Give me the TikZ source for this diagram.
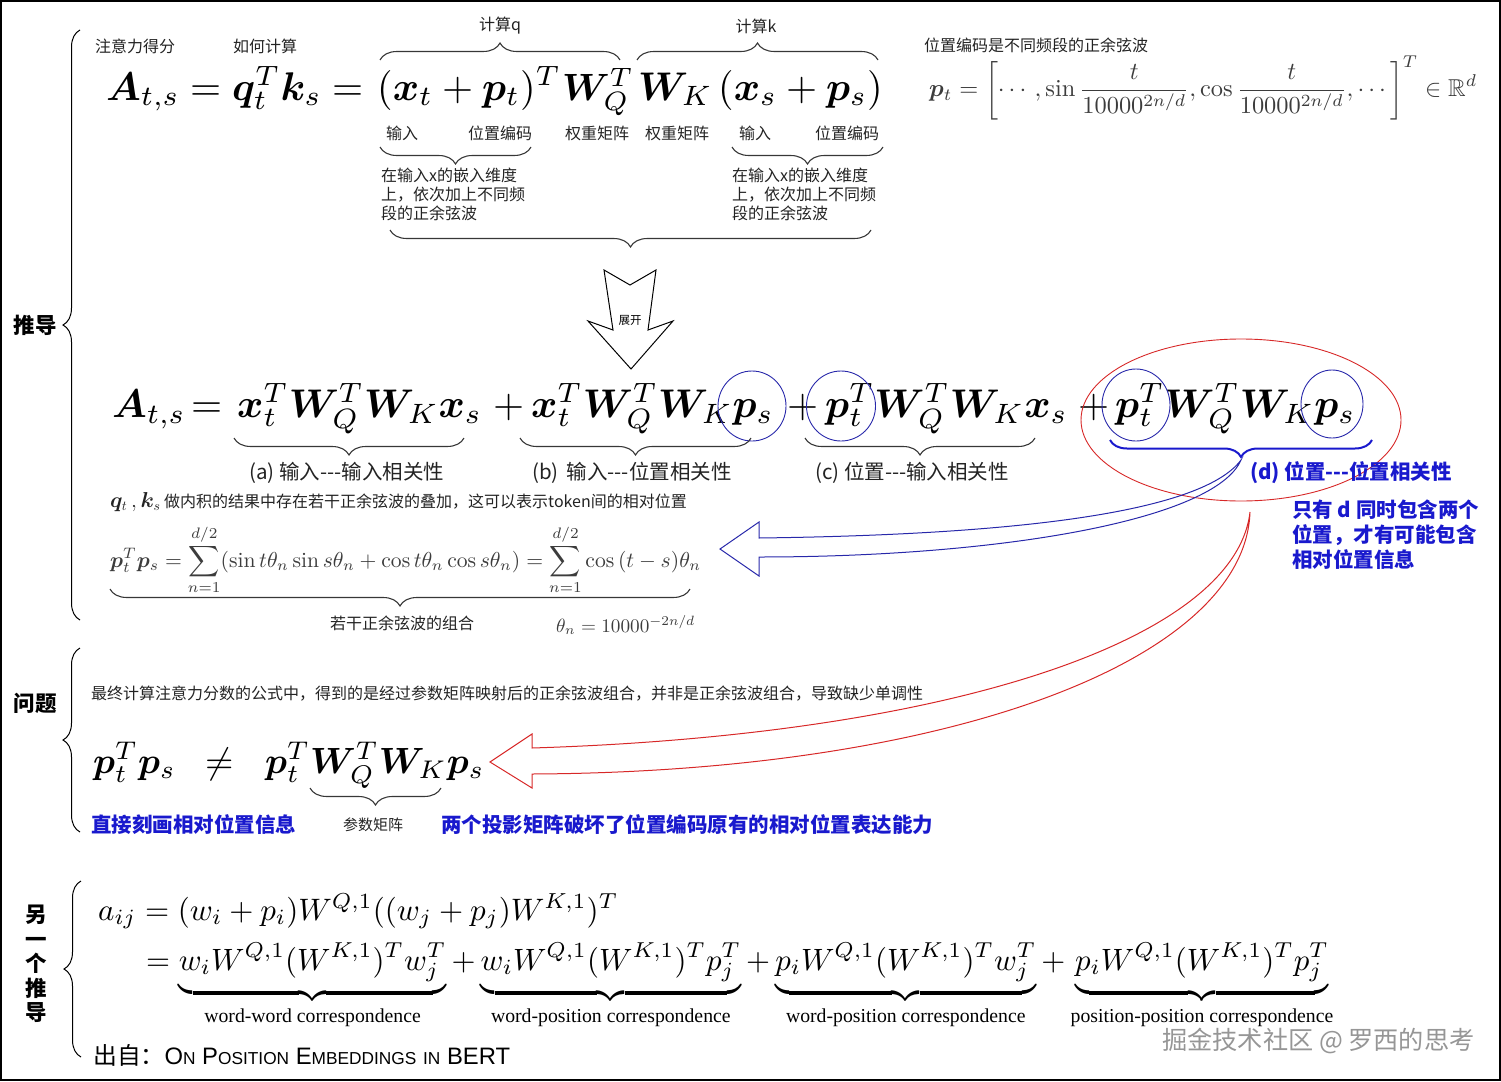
\documentclass[tikz,border=0pt]{standalone}
\usepackage{amsmath,amssymb,bm}
\usepackage{fontspec}
\usetikzlibrary{decorations.pathreplacing,shapes.geometric}
\newfontfamily\cjk{Noto Sans CJK SC}
\newfontfamily\tms{Liberation Serif}
\newfontfamily\arl{Liberation Sans}
\definecolor{myblue}{RGB}{25,25,205}
\definecolor{cblue}{RGB}{40,40,170}
\definecolor{myred}{RGB}{215,40,40}
\definecolor{txtc}{RGB}{35,35,35}
\definecolor{brcol}{RGB}{55,55,55}
\definecolor{mgray}{RGB}{60,60,60}
\definecolor{wmark}{RGB}{150,150,150}
\newcommand\sbx[2]{\scalebox{#1}{$#2$}}
\newcommand\fsc[1]{{\fontsize{17.3}{17.3}\selectfont #1}}
\def\Sa{4.0}
\def\Sb{4.0}
\def\Sc{3.65}
\begin{document}
\begin{tikzpicture}[x=1pt,y=-1pt,
  txt/.style={inner sep=0pt, text=txtc, font=\cjk\fontsize{16}{19}\selectfont},
  lbl/.style={inner sep=0pt, text=txtc, font=\cjk\fontsize{20.5}{24}\selectfont},
  blbl/.style={inner sep=0pt, text=myblue, font=\cjk\bfseries\fontsize{20.5}{25}\selectfont},
  sect/.style={inner sep=0pt, font=\cjk\bfseries\fontsize{21.5}{24.5}\selectfont},
  mth/.style={inner sep=0pt, anchor=base west},
  brc/.style={decorate, decoration={brace, amplitude=17pt}, draw=brcol, line width=1.1pt},
  lbrc/.style={decorate, decoration={brace, amplitude=17pt}, draw=black, line width=1pt},
  circ/.style={draw=cblue, line width=0.9pt, ellipse, inner sep=0pt},
]
\useasboundingbox (0,0) rectangle (1501,1081);
\draw[line width=2pt] (1,1) rectangle (1500,1080);

% ---- left braces and section labels
\draw[lbrc] (80,620) -- (80,30);
\draw[lbrc] (80,832) -- (80,648);
\draw[lbrc] (81,1057) -- (81,881);
\node[sect] (sd) at (35,325) {推导};
\node[sect] (sq) at (35,703) {问题};
\node[sect, align=center] (so) at (36,964) {另\\一\\个\\推\\导};

% ---- top row
\node[txt] (t1) at (135,46) {注意力得分};
\node[txt] (t2) at (265,46) {如何计算};
\node[txt] (t3) at (500,26) {计算q};
\node[txt] (t4) at (756,26) {计算k};
\draw[brc] (380,60) -- (620,60);
\draw[brc] (637,60) -- (878,60);

\node[mth] (r1a) at (106,100) {\sbx{\Sa}{\bm{A}_{t,s}}};
\node[mth] (r1b) at (190,100) {\sbx{\Sa}{=}};
\node[mth] (r1c) at (232,100) {\sbx{\Sa}{\bm{q}_t^T\bm{k}_s}};
\node[mth] (r1d) at (332,100) {\sbx{\Sa}{=}};
\node[mth] (r1e) at (377,100) {\sbx{\Sa}{(\bm{x}_t+\bm{p}_t)^T}};
\node[mth] (r1f) at (562,100) {\sbx{3.8}{\bm{W}_Q^T}};
\node[mth] (r1g) at (638,100) {\sbx{\Sa}{\bm{W}_K}};
\node[mth] (r1h) at (718,100) {\sbx{\Sa}{(\bm{x}_s+\bm{p}_s)}};

\node[txt] (l1) at (402,133) {输入};
\node[txt] (l2) at (500,133) {位置编码};
\node[txt] (l3) at (597,133) {权重矩阵};
\node[txt] (l4) at (677,133) {权重矩阵};
\node[txt] (l5) at (755,133) {输入};
\node[txt] (l6) at (847,133) {位置编码};
\draw[brc] (531,147) -- (380,147);
\draw[brc] (883,147) -- (732,147);
\node[txt, anchor=north west, align=left] (b1) at (381,168) {在输入x的嵌入维度\\上，依次加上不同频\\段的正余弦波};
\node[txt, anchor=north west, align=left] (b2) at (732,168) {在输入x的嵌入维度\\上，依次加上不同频\\段的正余弦波};
\draw[brc] (871,230) -- (390,230);

\node[txt, anchor=west] (pe) at (924,45) {位置编码是不同频段的正余弦波};
\node[inner sep=0pt, anchor=west, text=mgray] (pf) at (929,87.5) {\resizebox{548pt}{!}{$\displaystyle \bm{p}_t=\left[\cdots,\sin\frac{t}{10000^{2n/d}},\cos\frac{t}{10000^{2n/d}},\cdots\right]^T\in\mathbb{R}^d$}};

% ---- expand arrow
\draw[line width=1pt, line join=miter] (604,270) -- (630,285) -- (656,270) -- (648,330) -- (673,321) -- (631,369) -- (588,321) -- (613,330) -- cycle;
\node[inner sep=0pt, font=\cjk\fontsize{11.5}{12}\selectfont] (zk) at (630,320) {展开};

% ---- second row
\node[mth] (r2a) at (112,417) {\sbx{\Sb}{\bm{A}_{t,s}}};
\node[mth] (r2b) at (191,417) {\sbx{\Sb}{=}};
\node[mth] (r2c) at (237,417) {\sbx{\Sb}{\bm{x}_t^T\bm{W}_Q^T\bm{W}_K\bm{x}_s}};
\node[mth] (r2p1) at (493,417) {\sbx{\Sb}{+}};
\node[mth] (r2d) at (531,417) {\sbx{\Sb}{\bm{x}_t^T\bm{W}_Q^T\bm{W}_K\bm{p}_s}};
\node[mth] (r2p2) at (787,417) {\sbx{\Sb}{+}};
\node[mth] (r2e) at (825,417) {\sbx{\Sb}{\bm{p}_t^T\bm{W}_Q^T\bm{W}_K\bm{x}_s}};
\node[mth] (r2p3) at (1078,417) {\sbx{\Sb}{+}};
\node[mth] (r2f) at (1115,417) {\sbx{\Sb}{\bm{p}_t^T\bm{W}_Q^T\bm{W}_K\bm{p}_s}};

\node[circ, minimum width=68pt, minimum height=70pt] (c1) at (752,406) {};
\node[circ, minimum width=69pt, minimum height=70pt] (c2) at (841,406) {};
\node[circ, minimum width=68pt, minimum height=72pt] (c3) at (1136,405) {};
\node[circ, minimum width=62pt, minimum height=68pt] (c4) at (1332,404) {};
\node[draw=myred, line width=0.9pt, ellipse, inner sep=0pt, minimum width=320pt, minimum height=162pt] (red) at (1241,420) {};

\draw[brc] (464,438) -- (234,438);
\draw[brc] (751,438) -- (520,438);
\draw[brc] (1035,438) -- (805,438);
\draw[decorate, decoration={brace, amplitude=17pt}, draw=myblue, line width=2pt] (1372,440) -- (1110,440);
\coordinate (dtip) at (1241,460);
\coordinate (rtail) at (1250,512);

\node[lbl, anchor=west] (la) at (249,473) {(a) 输入-{}-{}-输入相关性};
\node[lbl, anchor=west] (lb) at (532,473) {(b)\, 输入-{}-{}-位置相关性};
\node[lbl, anchor=west] (lc) at (815,473) {(c) 位置-{}-{}-输入相关性};
\node[blbl, anchor=west] (ld) at (1250,473) {(d) 位置-{}-{}-位置相关性};
\node[blbl, anchor=north west, align=left] (only) at (1292,500) {只有 d 同时包含两个\\位置，才有可能包含\\相对位置信息};

\node[txt, anchor=west] (qk) at (110,502) {\sbx{1.25}{\bm{q}_t\,,\bm{k}_s} 做内积的结果中存在若干正余弦波的叠加，这可以表示token间的相对位置};
\node[inner sep=0pt, anchor=west, text=mgray] (sum) at (110,560) {\resizebox{591pt}{!}{$\displaystyle \bm{p}_t^T\bm{p}_s=\sum_{n=1}^{d/2}(\sin t\theta_n\sin s\theta_n+\cos t\theta_n\cos s\theta_n)=\sum_{n=1}^{d/2}\cos{(t-s)}\theta_n$}};
\draw[brc] (690,589) -- (110,589);
\node[txt] (zh) at (402,623) {若干正余弦波的组合};
\node[inner sep=0pt, anchor=west, text=mgray] (th) at (556,625) {\resizebox{139pt}{!}{$\theta_n=10000^{-2n/d}$}};

% ---- arrows
\draw[draw=cblue, line width=1pt, line join=miter] (720,549) -- (759,522) -- (759,538) .. controls (1000,535) and (1200,515) .. (dtip) .. controls (1215,520) and (1000,557) .. (759,557) -- (759,576) -- cycle;
\draw[draw=myred, line width=1pt, line join=miter] (490,762) -- (532,734) -- (532,748) .. controls (950,735) and (1235,640) .. (rtail) .. controls (1245,660) and (950,772) .. (532,774) -- (532,788) -- cycle;

% ---- problem section
\node[txt, anchor=west] (pr) at (91,694) {最终计算注意力分数的公式中，得到的是经过参数矩阵映射后的正余弦波组合，并非是正余弦波组合，导致缺少单调性};
\node[mth] (p1) at (93,773) {\sbx{\Sc}{\bm{p}_t^T\bm{p}_s}};
\node[mth] (p2) at (205,773) {\sbx{\Sc}{\neq}};
\node[mth] (p3) at (265,773) {\sbx{\Sc}{\bm{p}_t^T\bm{W}_Q^T\bm{W}_K\bm{p}_s}};
\draw[brc] (441,788) -- (310,788);
\node[txt, font=\cjk\fontsize{15}{18}\selectfont] (cs) at (373,825) {参数矩阵};
\node[blbl, anchor=west] (zj) at (91,825) {直接刻画相对位置信息};
\node[blbl, anchor=west] (ly) at (441,825) {两个投影矩阵破坏了位置编码原有的相对位置表达能力};

% ---- other derivation
\node[mth] (e1) at (98,920) {\resizebox{520pt}{!}{$a_{ij}=(w_i+p_i)W^{Q,1}((w_j+p_j)W^{K,1})^T$}};
\node[mth] (e2) at (146,970) {\resizebox{1187pt}{!}{$=\underbrace{w_iW^{Q,1}(W^{K,1})^Tw_j^T}_{\text{\tms\fontsize{6.4}{7}\selectfont word-word correspondence}}+\underbrace{w_iW^{Q,1}(W^{K,1})^Tp_j^T}_{\text{\tms\fontsize{6.4}{7}\selectfont word-position correspondence}}+\underbrace{p_iW^{Q,1}(W^{K,1})^Tw_j^T}_{\text{\tms\fontsize{6.4}{7}\selectfont word-position correspondence}}+\underbrace{p_iW^{Q,1}(W^{K,1})^Tp_j^T}_{\text{\tms\fontsize{6.4}{7}\selectfont position-position correspondence}}$}};
\node[inner sep=0pt, anchor=west, font=\fontsize{23.8}{26}\selectfont] (src) at (93,1055) {{\cjk 出自：}{\arl O\fsc{N} P\fsc{OSITION} E\fsc{MBEDDINGS} \fsc{IN} BERT}};
\node[inner sep=0pt, anchor=west, text=wmark, font=\cjk\fontsize{25.2}{27}\selectfont] (wm) at (1162,1041) {掘金技术社区 @ 罗西的思考};
\end{tikzpicture}
\end{document}
